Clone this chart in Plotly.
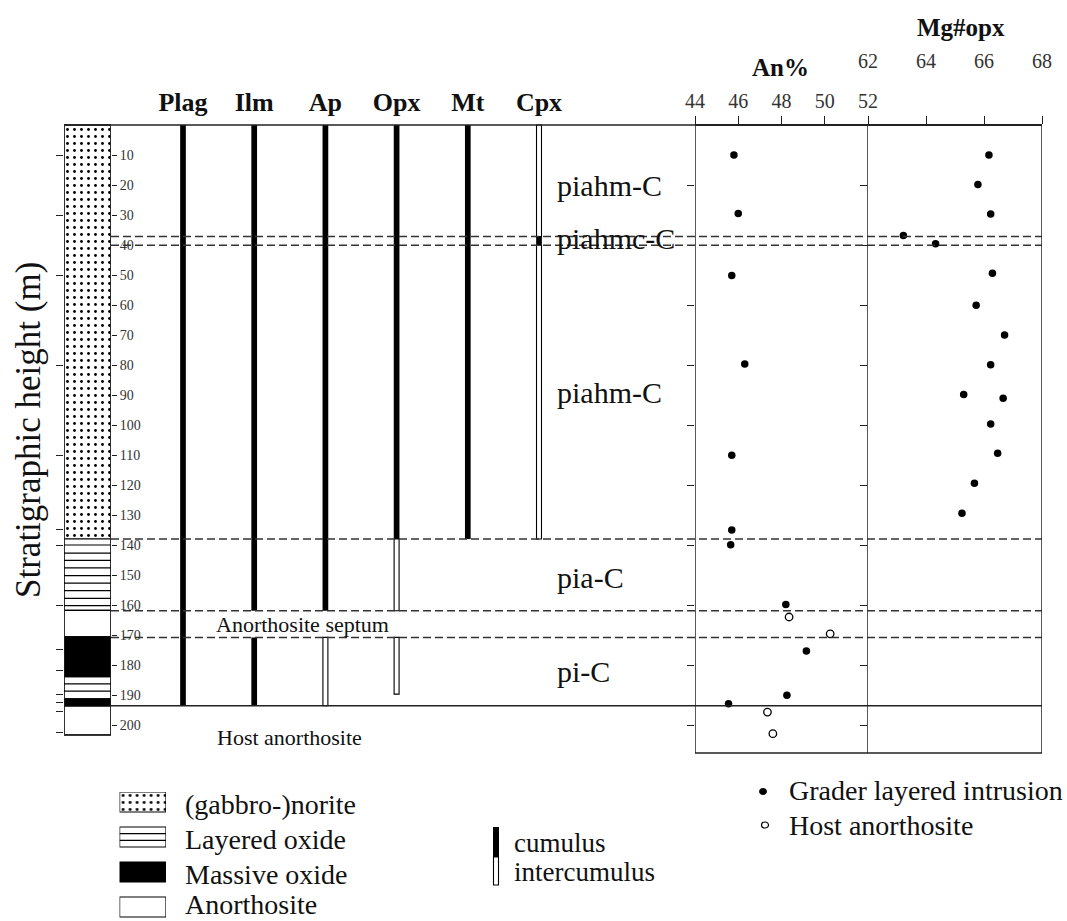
import plotly.graph_objects as go

W, H = 1067, 921
SERIF = "Liberation Serif"
INK = "#111111"
LINE = "#222222"

# ---------------- data ----------------
# lithological column (depth in m)
lith_top = [0.0, 138.0, 161.8, 170.6, 183.9, 191.3, 193.6]
lith_bot = [138.0, 161.8, 170.6, 183.9, 191.3, 193.6, 203.3]
lith_kind = ["norite", "layered", "anorthosite", "massive", "layered", "massive", "anorthosite"]
layer_lines = [140.0, 142.7, 145.1, 147.6, 150.2, 152.7, 155.2, 157.8, 160.2, 186.3, 188.7]
col_left_ticks = [10, 30, 50, 80, 110, 134.7, 140, 160, 174.8, 181.7, 189.7, 192.6, 195.6, 202.4]
height_ticks = list(range(10, 201, 10))
panel_ticks = list(range(20, 201, 20))

# mineral cumulus / intercumulus ranges
minerals = ["Plag", "Ilm", "Ap", "Opx", "Mt", "Cpx"]
cum_mineral = ["Plag", "Ilm", "Ilm", "Ap", "Opx", "Mt", "Cpx"]
cum_top = [0.0, 0.0, 170.8, 0.0, 0.0, 0.0, 37.2]
cum_bot = [193.6, 161.9, 193.6, 161.9, 138.0, 138.0, 40.1]
int_mineral = ["Ap", "Opx", "Opx", "Cpx", "Cpx"]
int_top = [170.8, 138.0, 170.8, 0.0, 40.1]
int_bot = [193.6, 161.9, 189.7, 37.2, 138.0]

# unit boundaries and names
dashed_bounds = [37.2, 40.1, 138.0, 161.9, 170.8]
intrusion_base = 193.6
unit_labels = ["piahm-C", "piahmc-C", "piahm-C", "pia-C", "pi-C"]
unit_label_depth = [20.3, 37.7, 89.0, 150.7, 182.3]

# An% of plagioclase
an_grader_depth = [10.0, 29.5, 50.2, 79.7, 110.1, 135.0, 139.9, 159.8, 175.3, 190.1, 192.9]
an_grader_val = [45.8, 46.0, 45.7, 46.3, 45.7, 45.7, 45.65, 48.2, 49.15, 48.25, 45.55]
an_host_depth = [164.0, 169.6, 195.7, 202.9]
an_host_val = [48.35, 50.25, 47.35, 47.6]
an_ticks = [44, 46, 48, 50, 52]

# Mg# of orthopyroxene
mg_depth = [10.0, 19.8, 29.7, 36.8, 39.6, 49.4, 60.1, 70.0, 79.9, 89.8, 91.1, 99.7, 109.4, 119.4, 129.4]
mg_val = [66.17, 65.79, 66.23, 63.22, 64.33, 66.29, 65.73, 66.71, 66.23, 65.30, 66.66, 66.23, 66.47, 65.67, 65.24]
mg_ticks = [62, 64, 66, 68]

legend_litho = ["(gabbro-)norite", "Layered oxide", "Massive oxide", "Anorthosite"]

# ---------------- layout helpers ----------------
TOP_PX = 125.0
PXM = 3.0
Y_RANGE = [(H - TOP_PX) / PXM, -TOP_PX / PXM]  # reversed, depth 0 at 125 px
PANEL_BOTTOM = 209.3


def px(x):
    return x / W


def py(y):
    return 1 - y / H


fig = go.Figure()

# ---------- lithological column ----------
kind_style = {
    "norite": dict(color="white", pattern=dict(shape=".", fgcolor="black", bgcolor="white",
                                               size=7, solidity=0.13, fgopacity=1)),
    "layered": dict(color="white"),
    "anorthosite": dict(color="white"),
    "massive": dict(color="black"),
}
for kind, st in kind_style.items():
    tops = [t for t, k in zip(lith_top, lith_kind) if k == kind]
    bots = [b for b, k in zip(lith_bot, lith_kind) if k == kind]
    fig.add_trace(go.Bar(
        x=[0.5] * len(tops), y=[b - t for t, b in zip(tops, bots)], base=tops, width=1.0,
        marker=dict(line=dict(color="black", width=1.2), **st),
        xaxis="x", yaxis="y", hoverinfo="skip", showlegend=False))

# ---------- mineral bars ----------
fig.add_trace(go.Bar(
    x=cum_mineral, y=[b - t for t, b in zip(cum_top, cum_bot)], base=cum_top, width=0.08,
    marker=dict(color="black", line=dict(width=0)), xaxis="x2", yaxis="y2",
    hoverinfo="skip", showlegend=False))
fig.add_trace(go.Bar(
    x=int_mineral, y=[b - t for t, b in zip(int_top, int_bot)], base=int_top, width=0.07,
    marker=dict(color="white", line=dict(color="black", width=1.1)), xaxis="x2", yaxis="y2",
    hoverinfo="skip", showlegend=False))

# ---------- An% ----------
fig.add_trace(go.Scatter(
    x=an_grader_val, y=an_grader_depth, mode="markers",
    marker=dict(symbol="circle", size=7.5, color="black"),
    xaxis="x3", yaxis="y3", hoverinfo="skip", showlegend=False))
fig.add_trace(go.Scatter(
    x=an_host_val, y=an_host_depth, mode="markers",
    marker=dict(symbol="circle", size=7.5, color="white", line=dict(color="black", width=1.3)),
    xaxis="x3", yaxis="y3", hoverinfo="skip", showlegend=False))

# ---------- Mg#opx ----------
fig.add_trace(go.Scatter(
    x=mg_val, y=mg_depth, mode="markers",
    marker=dict(symbol="circle", size=7.5, color="black"),
    xaxis="x4", yaxis="y4", hoverinfo="skip", showlegend=False))

# ---------- legend column boxes ----------
LEG_ROW = 35.0
LEG_TOP = 792.0
leg_kinds = ["norite", "layered", "massive", "anorthosite"]
for i, kind in enumerate(leg_kinds):
    fig.add_trace(go.Bar(
        x=[0.5], y=[20], base=[i * LEG_ROW], width=1.0,
        marker=dict(line=dict(color="black", width=1.2), **kind_style[kind]),
        xaxis="x5", yaxis="y5", hoverinfo="skip", showlegend=False))

shapes = []
# column frame
shapes.append(dict(type="rect", xref="x", yref="y", x0=0, x1=1, y0=0, y1=lith_bot[-1],
                   line=dict(color=LINE, width=1.5)))
# layered oxide lines
for d in layer_lines:
    shapes.append(dict(type="line", xref="x", yref="y", x0=0, x1=1, y0=d, y1=d,
                       line=dict(color="black", width=1.2)))
# top line
shapes.append(dict(type="line", xref="paper", yref="y", x0=px(64), x1=px(1042), y0=0, y1=0,
                   line=dict(color=LINE, width=1.5)))
# dashed unit boundaries
for d in dashed_bounds:
    shapes.append(dict(type="line", xref="paper", yref="y", x0=px(111), x1=px(1042), y0=d, y1=d,
                       line=dict(color="#333333", width=1.5, dash="8px,4px")))
# base of intrusion
shapes.append(dict(type="line", xref="paper", yref="y", x0=px(111), x1=px(1042),
                   y0=intrusion_base, y1=intrusion_base, line=dict(color=LINE, width=1.5)))
# An% frame
for xv in (an_ticks[0], an_ticks[-1]):
    shapes.append(dict(type="line", xref="x3", yref="y", x0=xv, x1=xv, y0=0, y1=PANEL_BOTTOM,
                       line=dict(color=LINE, width=1.5)))
shapes.append(dict(type="line", xref="x3", yref="y", x0=an_ticks[0], x1=an_ticks[-1],
                   y0=PANEL_BOTTOM, y1=PANEL_BOTTOM, line=dict(color=LINE, width=1.5)))
# Mg frame
shapes.append(dict(type="line", xref="x4", yref="y", x0=mg_ticks[-1], x1=mg_ticks[-1], y0=0,
                   y1=PANEL_BOTTOM, line=dict(color=LINE, width=1.5)))
shapes.append(dict(type="line", xref="x4", yref="y", x0=mg_ticks[0], x1=mg_ticks[-1],
                   y0=PANEL_BOTTOM, y1=PANEL_BOTTOM, line=dict(color=LINE, width=1.5)))
# legend: layered oxide inner lines
for f in (1 / 3, 2 / 3):
    yy = LEG_ROW + 20 * f
    shapes.append(dict(type="line", xref="x5", yref="y5", x0=0, x1=1, y0=yy, y1=yy,
                       line=dict(color="black", width=1.2)))
# legend: cumulus / intercumulus glyph
shapes.append(dict(type="rect", xref="paper", yref="paper", x0=px(493), x1=px(499),
                   y0=py(827), y1=py(857), fillcolor="black", line=dict(width=0)))
shapes.append(dict(type="rect", xref="paper", yref="paper", x0=px(493.5), x1=px(498.5),
                   y0=py(857), y1=py(885), fillcolor="white", line=dict(color="black", width=1.1)))
# legend: point symbols
shapes.append(dict(type="circle", xref="paper", yref="paper", x0=px(759.5), x1=px(766.5),
                   y0=py(788.5), y1=py(794.5), fillcolor="black", line=dict(color="black", width=1)))
shapes.append(dict(type="circle", xref="paper", yref="paper", x0=px(761.5), x1=px(768.5),
                   y0=py(822), y1=py(828), fillcolor="white", line=dict(color="black", width=1.2)))


def ann(text, x, y, size, xanchor="left", yanchor="middle", yref="paper", **kw):
    return dict(text=text, x=x, y=y, xref="paper", yref=yref, xanchor=xanchor, yanchor=yanchor,
                showarrow=False, font=dict(family=SERIF, size=size, color=INK), **kw)


annotations = []
# y title
annotations.append(ann("Stratigraphic height (m)", px(28), py(430), 35, xanchor="center", textangle=-90))
# unit labels
for lab, d in zip(unit_labels, unit_label_depth):
    annotations.append(ann(lab, px(555), d, 30, yref="y"))
annotations.append(ann("Anorthosite septum", px(214), 166.6, 22, yref="y"))
annotations.append(ann("Host anorthosite", px(215), 204, 22, yref="y"))
# panel titles
annotations.append(ann("<b>An%</b>", px(780), py(67), 25, xanchor="center"))
annotations.append(ann("<b>Mg#opx</b>", px(961), py(27), 25, xanchor="center"))
# legends
leg_text_y = [804, 839, 874, 904]
for lab, yy in zip(legend_litho, leg_text_y):
    annotations.append(ann(lab, px(183), py(yy), 28))
annotations.append(ann("cumulus", px(512), py(843), 27))
annotations.append(ann("intercumulus", px(512), py(872), 27))
annotations.append(ann("Grader layered intrusion", px(787), py(790), 28))
annotations.append(ann("Host anorthosite", px(787), py(825), 28))

noax = dict(showgrid=False, zeroline=False, showticklabels=False, ticks="", showline=False,
            fixedrange=True, automargin=False)
tick_font = dict(family=SERIF, size=20, color="#333333")
ycommon = dict(range=Y_RANGE, domain=[0, 1], showgrid=False, zeroline=False, showline=False,
               fixedrange=True, automargin=False, tickmode="array", tickwidth=1.3, tickcolor=LINE)

fig.update_layout(
    width=W, height=H, margin=dict(l=0, r=0, t=0, b=0, autoexpand=False),
    paper_bgcolor="white", plot_bgcolor="rgba(0,0,0,0)",
    barmode="overlay", showlegend=False,
    shapes=shapes, annotations=annotations,
    # column
    xaxis=dict(domain=[px(64), px(111)], range=[0, 1], anchor="y", **noax),
    yaxis=dict(anchor="x", side="right", tickvals=height_ticks,
               ticktext=[str(v) for v in height_ticks], ticks="outside", ticklen=5,
               tickfont=dict(family=SERIF, size=14, color="#333333"), **ycommon),
    yaxis2=dict(anchor="x", side="left", tickvals=col_left_ticks, ticks="outside", ticklen=7,
                showticklabels=False, **ycommon),
    # minerals
    xaxis2=dict(domain=[px(147.4), px(574.6)], type="category", categoryorder="array",
                categoryarray=minerals, range=[-0.5, 5.5], side="top", anchor="free",
                position=py(TOP_PX), ticks="", showline=False, showgrid=False, zeroline=False,
                ticklabelstandoff=9, automargin=False,
                tickfont=dict(family=SERIF, size=26, color=INK, weight="bold"), fixedrange=True),
    # An%
    xaxis3=dict(domain=[px(695), px(868)], range=[44, 52], side="top", anchor="free",
                position=py(TOP_PX), tickmode="array", tickvals=an_ticks, ticks="outside",
                ticklen=8, tickwidth=1.3, tickcolor=LINE, showline=True, linecolor=LINE, linewidth=1.5,
                showgrid=False, zeroline=False, tickfont=tick_font, fixedrange=True, automargin=False),
    yaxis3=dict(anchor="x3", side="left", tickvals=panel_ticks, ticks="outside", ticklen=7,
                showticklabels=False, **ycommon),
    # Mg#
    xaxis4=dict(domain=[px(868), px(1042)], range=[62, 68], side="top", anchor="free",
                position=py(TOP_PX), tickmode="array", tickvals=mg_ticks, ticks="outside",
                ticklen=8, tickwidth=1.3, tickcolor=LINE, showline=True, linecolor=LINE, linewidth=1.5,
                ticklabelstandoff=40, automargin=False,
                showgrid=False, zeroline=False, tickfont=tick_font, fixedrange=True),
    yaxis4=dict(anchor="x4", side="left", tickvals=panel_ticks, ticks="outside", ticklen=7,
                showticklabels=False, **ycommon),
    # legend boxes
    xaxis5=dict(domain=[px(119.6), px(166)], range=[0, 1], anchor="y5", **noax),
    yaxis5=dict(domain=[0, py(LEG_TOP)], range=[H - LEG_TOP, 0], anchor="x5", **noax),
)

fig.write_html("out.html", config={"displayModeBar": False},
               post_script="document.body.style.margin='0px';")
